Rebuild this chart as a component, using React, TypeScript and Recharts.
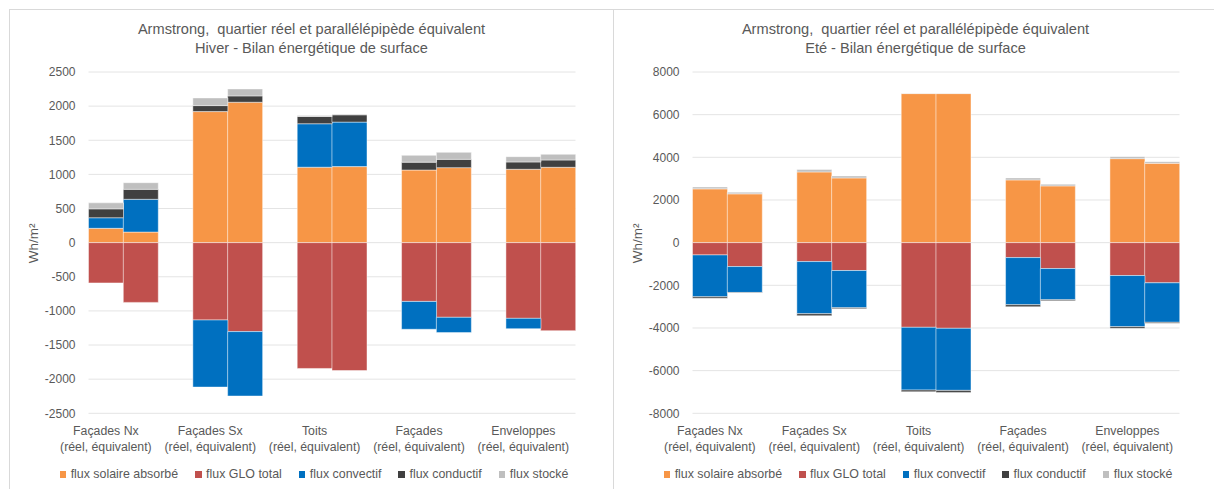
import React from 'react';
import { BarChart, Bar, XAxis, YAxis, CartesianGrid } from 'recharts';

const FONT = "'Liberation Sans', Arial, sans-serif";
const TEXT = '#595959';

const categories = ['Façades Nx', 'Façades Sx', 'Toits', 'Façades', 'Enveloppes'];
const categorySubLabel = '(réel, équivalent)';
const variants = ['réel', 'équivalent'];

const mainTitle = 'Armstrong,  quartier réel et parallélépipède équivalent';
const hiverTitle = 'Hiver - Bilan énergétique de surface';
const eteTitle = 'Eté - Bilan énergétique de surface';
const yLabel = 'Wh/m²';

const seriesNames = ['flux solaire absorbé', 'flux GLO total', 'flux convectif', 'flux conductif', 'flux stocké'];
const seriesKeys = ['solaire', 'glo', 'convectif', 'conductif', 'stocke'];
const seriesColors = ['#F79646', '#C0504D', '#0070C0', '#404040', '#BFBFBF'];

// order: Nx réel, Nx équiv, Sx réel, Sx équiv, Toits réel, Toits équiv, Façades réel, Façades équiv, Enveloppes réel, Enveloppes équiv
const hiverSolaire = [210, 155, 1920, 2057, 1105, 1114, 1064, 1099, 1075, 1104];
const hiverGLO = [-590, -875, -1133, -1303, -1843, -1873, -861, -1094, -1109, -1289];
const hiverConvectif = [155, 480, -983, -944, 637, 652, -408, -224, -151, 0];
const hiverConductif = [130, 146, 88, 93, 107, 107, 115, 121, 107, 107];
const hiverStocke = [88, 97, 112, 102, 12, 10, 100, 103, 78, 83];

const eteSolaire = [2521, 2288, 3315, 3035, 6988, 6988, 2942, 2661, 3938, 3720];
const eteGLO = [-576, -1121, -887, -1307, -3969, -4016, -700, -1214, -1541, -1883];
const eteConvectif = [-1961, -1214, -2444, -1744, -2942, -2910, -2211, -1463, -2397, -1852];
const eteConductif = [-70, -25, -93, -45, -78, -94, -93, -47, -78, -47];
const eteStocke = [90, 78, 109, 93, 15, 15, 93, 78, 93, 78];

const hiverTicks = [2500, 2000, 1500, 1000, 500, 0, -500, -1000, -1500, -2000, -2500];
const eteTicks = [8000, 6000, 4000, 2000, 0, -2000, -4000, -6000, -8000];

type Row = { slot: string; label: string; [k: string]: any };

function buildData(series: number[][]): Row[] {
  const rows: Row[] = [];
  categories.forEach((cat, c) => {
    variants.forEach((_v, k) => {
      const i = c * 2 + k;
      const row: Row = { slot: 's' + rows.length, label: k === 0 ? cat : '' };
      seriesKeys.forEach((key, s) => {
        row[key] = series[s][i];
      });
      rows.push(row);
    });
    if (c < categories.length - 1) rows.push({ slot: 's' + rows.length, label: '' });
  });
  return rows;
}

const hiverData = buildData([hiverSolaire, hiverGLO, hiverConvectif, hiverConductif, hiverStocke]);
const eteData = buildData([eteSolaire, eteGLO, eteConvectif, eteConductif, eteStocke]);

function CategoryTick(props: any) {
  const { x, y, payload, rows } = props;
  const row = (rows as Row[]).find((r) => r.slot === payload.value);
  if (!row || !row.label) return <g />;
  return (
    <g>
      <text x={x} y={y + 21.7} textAnchor="middle" fill={TEXT} fontSize={12.3} fontFamily={FONT}>
        {row.label}
      </text>
      <text x={x} y={y + 37.7} textAnchor="middle" fill={TEXT} fontSize={12.3} fontFamily={FONT}>
        {categorySubLabel}
      </text>
    </g>
  );
}

function EnergyChart({ left, subtitle, data, domain, ticks }: { left: number; subtitle: string; data: Row[]; domain: [number, number]; ticks: number[] }) {
  return (
    <div style={{ position: 'absolute', left, top: 0, width: 607, height: 489 }}>
      <BarChart
        width={607}
        height={489}
        data={data}
        margin={{ top: 72, right: 31.5, bottom: 45.7, left: 28.5 }}
        barCategoryGap={0}
        barGap={0}
        stackOffset="sign"
      >
        <CartesianGrid vertical={false} stroke="#e4e4e4" />
        <XAxis
          dataKey="slot"
          interval={0}
          axisLine={false}
          tickLine={false}
          tickSize={0}
          tickMargin={0}
          height={30}
          tick={(p: any) => <CategoryTick {...p} rows={data} />}
        />
        <YAxis
          type="number"
          domain={domain}
          ticks={ticks}
          interval={0}
          width={60}
          axisLine={false}
          tickLine={false}
          tickSize={0}
          tickMargin={13}
          allowDataOverflow
          tick={{ fontSize: 12, fill: TEXT, fontFamily: FONT }}
        />
        {seriesKeys.map((key, i) => (
          <Bar
            key={key}
            dataKey={key}
            name={seriesNames[i]}
            stackId="a"
            fill={seriesColors[i]}
            stroke="#ffffff"
            strokeOpacity={0.45}
            strokeWidth={1}
            isAnimationActive={false}
          />
        ))}
      </BarChart>
      <svg width={607} height={489} style={{ position: 'absolute', left: 0, top: 0, pointerEvents: 'none' }}>
        <text x={311.5} y={33.7} textAnchor="middle" fill={TEXT} fontSize={14.6} fontFamily={FONT} style={{ whiteSpace: 'pre' }}>
          {mainTitle}
        </text>
        <text x={311.5} y={52.7} textAnchor="middle" fill={TEXT} fontSize={14.6} fontFamily={FONT}>
          {subtitle}
        </text>
        <text transform="translate(33.5,243.3) rotate(-90)" textAnchor="middle" dominantBaseline="central" fill={TEXT} fontSize={13.5} fontFamily={FONT}>
          {yLabel}
        </text>
      </svg>
      <div
        style={{
          position: 'absolute',
          left: 0,
          top: 467,
          width: 628,
          height: 15,
          display: 'flex',
          justifyContent: 'center',
          alignItems: 'center',
          gap: 17,
          fontFamily: FONT,
          fontSize: 12.4,
          lineHeight: '15px',
          color: TEXT,
          whiteSpace: 'nowrap',
        }}
      >
        {seriesNames.map((name, i) => (
          <div key={name} style={{ display: 'flex', alignItems: 'center' }}>
            <span style={{ display: 'inline-block', width: 6.5, height: 6.5, background: seriesColors[i], marginRight: 4.5 }} />
            <span>{name}</span>
          </div>
        ))}
      </div>
    </div>
  );
}

export default function App() {
  return (
    <div style={{ position: 'absolute', left: 0, top: 0, width: 1214, height: 489, background: '#ffffff', overflow: 'hidden' }}>
      <svg width={1214} height={489} style={{ position: 'absolute', left: 0, top: 0 }}>
        <line x1={9} y1={9.5} x2={1214} y2={9.5} stroke="#d9d9d9" strokeWidth={1} />
        <line x1={9.5} y1={9} x2={9.5} y2={489} stroke="#d9d9d9" strokeWidth={1} />
        <line x1={613.5} y1={9} x2={613.5} y2={489} stroke="#d9d9d9" strokeWidth={1} />
      </svg>
      <EnergyChart left={0} subtitle={hiverTitle} data={hiverData} domain={[-2500, 2500]} ticks={hiverTicks} />
      <EnergyChart left={604} subtitle={eteTitle} data={eteData} domain={[-8000, 8000]} ticks={eteTicks} />
    </div>
  );
}
